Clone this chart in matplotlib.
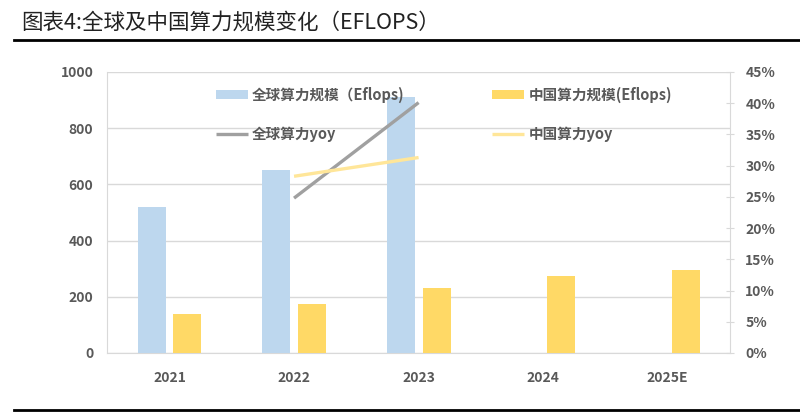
import matplotlib
matplotlib.use("Agg")
import matplotlib.pyplot as plt
import numpy as np

plt.rcParams['font.family'] = ['Noto Sans CJK SC', 'DejaVu Sans']

years = ['2021', '2022', '2023', '2024', '2025E']
global_power = [520, 650, 910, None, None]
china_power = [137, 176, 232, 275, 295]
global_yoy = [None, 24.8, 40.1, None, None]
china_yoy = [None, 28.3, 31.3, None, None]

fig = plt.figure(figsize=(8, 4.13), dpi=100)
ax = fig.add_axes([0.134, 0.1453, 0.7785, 0.6804])
ax2 = ax.twinx()

x = np.arange(len(years))
w = 0.225
off = 0.144
gx = [i for i, v in zip(x, global_power) if v is not None]
gv = [v for v in global_power if v is not None]
b1 = ax.bar(np.array(gx) - off, gv, w, color='#BDD7EE', zorder=3)
b2 = ax.bar(x + off, china_power, w, color='#FFD966', zorder=3)

lx = [i for i, v in zip(x, global_yoy) if v is not None]
l1, = ax2.plot(lx, [v for v in global_yoy if v is not None], color='#A0A0A0', lw=2.4,
               solid_capstyle='butt')
l2, = ax2.plot(lx, [v for v in china_yoy if v is not None], color='#FFE699', lw=2.4,
               solid_capstyle='butt')

ax.set_xlim(-0.5, 4.5)
ax.set_ylim(0, 1000)
ax.set_yticks(range(0, 1001, 200))
ax2.set_ylim(0, 45)
ax2.set_yticks(range(0, 46, 5))
ax2.set_yticklabels([f'{v}%' for v in range(0, 46, 5)])
ax.set_xticks(x)
ax.set_xticklabels(years)

ax.grid(axis='y', color='#D9D9D9', lw=1, zorder=0)
ax.set_axisbelow(True)
for a in (ax, ax2):
    a.spines['top'].set_visible(False)
    for s in ('left', 'right', 'bottom'):
        a.spines[s].set_color('#D9D9D9')
ax2.spines['left'].set_visible(False)
ax.spines['right'].set_visible(False)
ax2.spines['bottom'].set_visible(False)

ax.tick_params(axis='y', length=0, pad=10)
ax.tick_params(axis='x', length=0, pad=13)
ax2.tick_params(axis='y', direction='inout', length=6, color='#D9D9D9', pad=8)
for lab in ax.get_yticklabels() + ax.get_xticklabels() + ax2.get_yticklabels():
    lab.set_fontsize(10)
    lab.set_color('#595959')
    lab.set_fontweight('bold')

fig.legend([b1, l1, b2, l2],
           ['全球算力规模（Eflops)', '全球算力yoy', '中国算力规模(Eflops)', '中国算力yoy'],
           ncol=2, loc='upper left', bbox_to_anchor=(0.253, 0.822),
           frameon=False, prop={'size': 10.5, 'weight': 'bold'},
           labelcolor='#595959', handlelength=2.2, handleheight=0.6,
           labelspacing=1.6, columnspacing=6.0, handletextpad=0.3)

fig.text(0.027, 0.945, '图表4:全球及中国算力规模变化（EFLOPS）', fontsize=15.5,
         color='#222222', va='center', ha='left')
fig.add_artist(plt.Line2D([0.018, 1.0], [0.904, 0.904], color='black', lw=2,
                          transform=fig.transFigure))
fig.add_artist(plt.Line2D([0.018, 1.0], [0.007, 0.007], color='black', lw=2,
                          transform=fig.transFigure))

fig.savefig('out.png', dpi=100)
